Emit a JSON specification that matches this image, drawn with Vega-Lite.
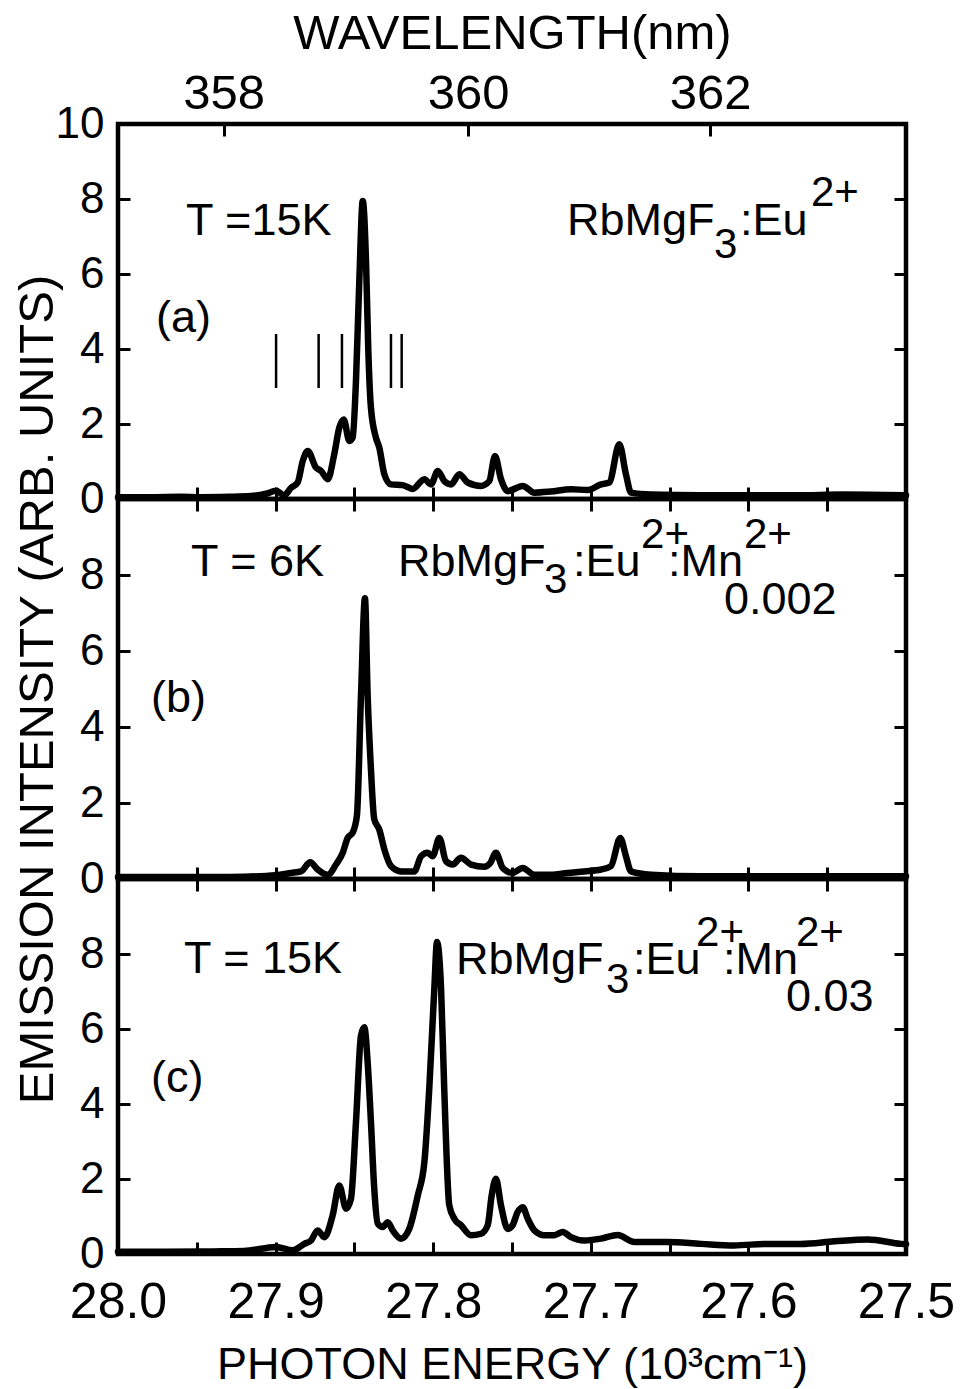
{
  "$schema": "https://vega.github.io/schema/vega-lite/v6.json",
  "background": "white",
  "padding": {"left": 11, "top": 6, "right": 0, "bottom": 0},
  "bounds": "flush",
  "spacing": 0,
  "config": {
    "font": "Liberation Sans, Arial, Helvetica, sans-serif",
    "view": {"stroke": "black", "strokeWidth": 4.5},
    "axis": {"domain": false, "grid": false, "tickColor": "black", "tickWidth": 3, "tickSize": -12, "labelColor": "black", "titleColor": "black", "titleFontWeight": "normal", "labelOverlap": false, "labelFlush": false, "labelBound": false}
  },
  "datasets": {
    "spectra": [
      {"panel": "a", "E": 28.0, "I": 0.05}, {"panel": "a", "E": 27.98, "I": 0.05}, {"panel": "a", "E": 27.96, "I": 0.06}, {"panel": "a", "E": 27.9473, "I": 0.05}, {"panel": "a", "E": 27.93, "I": 0.06}, {"panel": "a", "E": 27.9156, "I": 0.08}, {"panel": "a", "E": 27.9061, "I": 0.14}, {"panel": "a", "E": 27.8997, "I": 0.22}, {"panel": "a", "E": 27.8945, "I": 0.1}, {"panel": "a", "E": 27.8902, "I": 0.3}, {"panel": "a", "E": 27.886, "I": 0.44}, {"panel": "a", "E": 27.8828, "I": 1.01}, {"panel": "a", "E": 27.8796, "I": 1.28}, {"panel": "a", "E": 27.8744, "I": 0.84}, {"panel": "a", "E": 27.8712, "I": 0.75}, {"panel": "a", "E": 27.8669, "I": 0.53}, {"panel": "a", "E": 27.8628, "I": 1.19}, {"panel": "a", "E": 27.8596, "I": 1.9}, {"panel": "a", "E": 27.8568, "I": 2.12}, {"panel": "a", "E": 27.8532, "I": 1.55}, {"panel": "a", "E": 27.8511, "I": 1.64}, {"panel": "a", "E": 27.849, "I": 3.15}, {"panel": "a", "E": 27.8469, "I": 5.8}, {"panel": "a", "E": 27.8447, "I": 7.95}, {"panel": "a", "E": 27.8426, "I": 6.3}, {"panel": "a", "E": 27.8412, "I": 4.0}, {"panel": "a", "E": 27.8395, "I": 2.43}, {"panel": "a", "E": 27.8363, "I": 1.63}, {"panel": "a", "E": 27.8342, "I": 1.37}, {"panel": "a", "E": 27.831, "I": 0.66}, {"panel": "a", "E": 27.8268, "I": 0.39}, {"panel": "a", "E": 27.8194, "I": 0.37}, {"panel": "a", "E": 27.813, "I": 0.27}, {"panel": "a", "E": 27.8056, "I": 0.53}, {"panel": "a", "E": 27.8014, "I": 0.39}, {"panel": "a", "E": 27.7971, "I": 0.75}, {"panel": "a", "E": 27.793, "I": 0.48}, {"panel": "a", "E": 27.7887, "I": 0.39}, {"panel": "a", "E": 27.7834, "I": 0.66}, {"panel": "a", "E": 27.7781, "I": 0.44}, {"panel": "a", "E": 27.7697, "I": 0.35}, {"panel": "a", "E": 27.7644, "I": 0.48}, {"panel": "a", "E": 27.7608, "I": 1.15}, {"panel": "a", "E": 27.757, "I": 0.53}, {"panel": "a", "E": 27.7527, "I": 0.21}, {"panel": "a", "E": 27.7432, "I": 0.35}, {"panel": "a", "E": 27.7358, "I": 0.17}, {"panel": "a", "E": 27.7253, "I": 0.2}, {"panel": "a", "E": 27.7126, "I": 0.26}, {"panel": "a", "E": 27.702, "I": 0.24}, {"panel": "a", "E": 27.6935, "I": 0.39}, {"panel": "a", "E": 27.6883, "I": 0.44}, {"panel": "a", "E": 27.6819, "I": 1.46}, {"panel": "a", "E": 27.6777, "I": 0.66}, {"panel": "a", "E": 27.6745, "I": 0.17}, {"panel": "a", "E": 27.6618, "I": 0.12}, {"panel": "a", "E": 27.63, "I": 0.1}, {"panel": "a", "E": 27.6, "I": 0.1}, {"panel": "a", "E": 27.57, "I": 0.1}, {"panel": "a", "E": 27.54, "I": 0.12}, {"panel": "a", "E": 27.5, "I": 0.1},
      {"panel": "b", "E": 28.0, "I": 0.05}, {"panel": "b", "E": 27.97, "I": 0.05}, {"panel": "b", "E": 27.94, "I": 0.05}, {"panel": "b", "E": 27.92, "I": 0.06}, {"panel": "b", "E": 27.9, "I": 0.1}, {"panel": "b", "E": 27.8902, "I": 0.16}, {"panel": "b", "E": 27.8839, "I": 0.2}, {"panel": "b", "E": 27.878, "I": 0.44}, {"panel": "b", "E": 27.8733, "I": 0.25}, {"panel": "b", "E": 27.8669, "I": 0.11}, {"panel": "b", "E": 27.8617, "I": 0.38}, {"panel": "b", "E": 27.8574, "I": 0.69}, {"panel": "b", "E": 27.8543, "I": 1.08}, {"panel": "b", "E": 27.8511, "I": 1.22}, {"panel": "b", "E": 27.8484, "I": 1.67}, {"panel": "b", "E": 27.8458, "I": 4.84}, {"panel": "b", "E": 27.8433, "I": 7.39}, {"panel": "b", "E": 27.8416, "I": 4.84}, {"panel": "b", "E": 27.8395, "I": 2.89}, {"panel": "b", "E": 27.8374, "I": 1.57}, {"panel": "b", "E": 27.8342, "I": 1.3}, {"panel": "b", "E": 27.831, "I": 0.78}, {"panel": "b", "E": 27.8268, "I": 0.34}, {"panel": "b", "E": 27.8204, "I": 0.2}, {"panel": "b", "E": 27.812, "I": 0.2}, {"panel": "b", "E": 27.8077, "I": 0.6}, {"panel": "b", "E": 27.8035, "I": 0.69}, {"panel": "b", "E": 27.8003, "I": 0.6}, {"panel": "b", "E": 27.7961, "I": 1.08}, {"panel": "b", "E": 27.7919, "I": 0.47}, {"panel": "b", "E": 27.7876, "I": 0.38}, {"panel": "b", "E": 27.7824, "I": 0.56}, {"panel": "b", "E": 27.776, "I": 0.38}, {"panel": "b", "E": 27.7676, "I": 0.32}, {"panel": "b", "E": 27.7638, "I": 0.42}, {"panel": "b", "E": 27.7602, "I": 0.69}, {"panel": "b", "E": 27.7559, "I": 0.29}, {"panel": "b", "E": 27.7496, "I": 0.16}, {"panel": "b", "E": 27.7432, "I": 0.29}, {"panel": "b", "E": 27.7358, "I": 0.11}, {"panel": "b", "E": 27.7253, "I": 0.11}, {"panel": "b", "E": 27.7147, "I": 0.16}, {"panel": "b", "E": 27.7041, "I": 0.2}, {"panel": "b", "E": 27.6935, "I": 0.25}, {"panel": "b", "E": 27.6872, "I": 0.34}, {"panel": "b", "E": 27.6813, "I": 1.08}, {"panel": "b", "E": 27.6777, "I": 0.6}, {"panel": "b", "E": 27.6745, "I": 0.2}, {"panel": "b", "E": 27.6618, "I": 0.11}, {"panel": "b", "E": 27.63, "I": 0.07}, {"panel": "b", "E": 27.6, "I": 0.07}, {"panel": "b", "E": 27.56, "I": 0.07}, {"panel": "b", "E": 27.5, "I": 0.07},
      {"panel": "c", "E": 28.0, "I": 0.06}, {"panel": "c", "E": 27.97, "I": 0.06}, {"panel": "c", "E": 27.94, "I": 0.07}, {"panel": "c", "E": 27.92, "I": 0.08}, {"panel": "c", "E": 27.8997, "I": 0.19}, {"panel": "c", "E": 27.8892, "I": 0.1}, {"panel": "c", "E": 27.8818, "I": 0.27}, {"panel": "c", "E": 27.8775, "I": 0.36}, {"panel": "c", "E": 27.8733, "I": 0.63}, {"panel": "c", "E": 27.8691, "I": 0.45}, {"panel": "c", "E": 27.8638, "I": 1.03}, {"panel": "c", "E": 27.8596, "I": 1.83}, {"panel": "c", "E": 27.8553, "I": 1.21}, {"panel": "c", "E": 27.8522, "I": 1.47}, {"panel": "c", "E": 27.849, "I": 3.52}, {"panel": "c", "E": 27.8458, "I": 5.83}, {"panel": "c", "E": 27.8437, "I": 6.05}, {"panel": "c", "E": 27.8416, "I": 5.12}, {"panel": "c", "E": 27.8395, "I": 3.52}, {"panel": "c", "E": 27.8374, "I": 1.74}, {"panel": "c", "E": 27.8352, "I": 0.81}, {"panel": "c", "E": 27.832, "I": 0.72}, {"panel": "c", "E": 27.8289, "I": 0.85}, {"panel": "c", "E": 27.8257, "I": 0.63}, {"panel": "c", "E": 27.8204, "I": 0.41}, {"panel": "c", "E": 27.8152, "I": 0.67}, {"panel": "c", "E": 27.8098, "I": 1.56}, {"panel": "c", "E": 27.8056, "I": 2.45}, {"panel": "c", "E": 27.8025, "I": 4.41}, {"panel": "c", "E": 27.7993, "I": 7.07}, {"panel": "c", "E": 27.7976, "I": 8.32}, {"panel": "c", "E": 27.795, "I": 7.07}, {"panel": "c", "E": 27.793, "I": 4.41}, {"panel": "c", "E": 27.7898, "I": 1.3}, {"panel": "c", "E": 27.7866, "I": 0.94}, {"panel": "c", "E": 27.7824, "I": 0.77}, {"panel": "c", "E": 27.776, "I": 0.5}, {"panel": "c", "E": 27.7697, "I": 0.54}, {"panel": "c", "E": 27.7654, "I": 0.77}, {"panel": "c", "E": 27.7629, "I": 1.56}, {"panel": "c", "E": 27.7602, "I": 2.01}, {"panel": "c", "E": 27.757, "I": 1.3}, {"panel": "c", "E": 27.7527, "I": 0.67}, {"panel": "c", "E": 27.7496, "I": 0.77}, {"panel": "c", "E": 27.7464, "I": 1.12}, {"panel": "c", "E": 27.7432, "I": 1.25}, {"panel": "c", "E": 27.74, "I": 0.94}, {"panel": "c", "E": 27.7358, "I": 0.63}, {"panel": "c", "E": 27.7295, "I": 0.5}, {"panel": "c", "E": 27.7232, "I": 0.5}, {"panel": "c", "E": 27.7178, "I": 0.59}, {"panel": "c", "E": 27.7126, "I": 0.45}, {"panel": "c", "E": 27.7041, "I": 0.36}, {"panel": "c", "E": 27.6935, "I": 0.41}, {"panel": "c", "E": 27.6829, "I": 0.51}, {"panel": "c", "E": 27.6724, "I": 0.32}, {"panel": "c", "E": 27.6512, "I": 0.32}, {"panel": "c", "E": 27.6301, "I": 0.27}, {"panel": "c", "E": 27.609, "I": 0.23}, {"panel": "c", "E": 27.5878, "I": 0.27}, {"panel": "c", "E": 27.5666, "I": 0.27}, {"panel": "c", "E": 27.5455, "I": 0.34}, {"panel": "c", "E": 27.5243, "I": 0.39}, {"panel": "c", "E": 27.5032, "I": 0.27}, {"panel": "c", "E": 27.5, "I": 0.26}
    ],
    "notes": [
      {"panel": "a", "kind": "main", "E": 27.9569, "I": 7.04, "text": "T =15K"},
      {"panel": "a", "kind": "main", "E": 27.7151, "I": 7.04, "text": "RbMgF"},
      {"panel": "a", "kind": "sub", "E": 27.6218, "I": 6.43, "text": "3"},
      {"panel": "a", "kind": "main", "E": 27.6053, "I": 7.04, "text": ":Eu"},
      {"panel": "a", "kind": "sup", "E": 27.5603, "I": 7.81, "text": "2+"},
      {"panel": "a", "kind": "main", "E": 27.9759, "I": 4.45, "text": "(a)"},
      {"panel": "b", "kind": "main", "E": 27.9537, "I": 7.97, "text": "T = 6K"},
      {"panel": "b", "kind": "main", "E": 27.8223, "I": 7.97, "text": "RbMgF"},
      {"panel": "b", "kind": "sub", "E": 27.7297, "I": 7.53, "text": "3"},
      {"panel": "b", "kind": "main", "E": 27.7113, "I": 7.97, "text": ":Eu"},
      {"panel": "b", "kind": "sup", "E": 27.6681, "I": 8.71, "text": "2+"},
      {"panel": "b", "kind": "main", "E": 27.651, "I": 7.97, "text": ":Mn"},
      {"panel": "b", "kind": "sup", "E": 27.6028, "I": 8.71, "text": "2+"},
      {"panel": "b", "kind": "main", "E": 27.6155, "I": 6.97, "text": "0.002"},
      {"panel": "b", "kind": "main", "E": 27.9791, "I": 4.39, "text": "(b)"},
      {"panel": "c", "kind": "main", "E": 27.9581, "I": 7.49, "text": "T = 15K"},
      {"panel": "c", "kind": "main", "E": 27.7855, "I": 7.47, "text": "RbMgF"},
      {"panel": "c", "kind": "sub", "E": 27.6904, "I": 6.96, "text": "3"},
      {"panel": "c", "kind": "main", "E": 27.6732, "I": 7.47, "text": ":Eu"},
      {"panel": "c", "kind": "sup", "E": 27.6332, "I": 8.21, "text": "2+"},
      {"panel": "c", "kind": "main", "E": 27.6161, "I": 7.47, "text": ":Mn"},
      {"panel": "c", "kind": "sup", "E": 27.5698, "I": 8.21, "text": "2+"},
      {"panel": "c", "kind": "main", "E": 27.5761, "I": 6.48, "text": "0.03"},
      {"panel": "c", "kind": "main", "E": 27.9791, "I": 4.32, "text": "(c)"}
    ],
    "markers": [
      {"E": 27.8997, "I1": 2.96, "I2": 4.4},
      {"E": 27.8727, "I1": 2.96, "I2": 4.4},
      {"E": 27.8579, "I1": 2.96, "I2": 4.4},
      {"E": 27.8268, "I1": 2.96, "I2": 4.4},
      {"E": 27.82, "I1": 2.96, "I2": 4.4}
    ]
  },
  "vconcat": [
    {
      "width": 788, "height": 375,
      "resolve": {"axis": {"x": "independent", "y": "independent"}},
      "layer": [
        {
          "data": {"name": "spectra"},
          "transform": [{"filter": "datum.panel === 'a'"}],
          "mark": {"type": "line", "color": "black", "strokeWidth": 6.5, "interpolate": "monotone", "strokeJoin": "round", "strokeCap": "round"},
          "encoding": {
            "x": {"field": "E", "type": "quantitative", "scale": {"domain": [27.5, 28.0], "reverse": true, "nice": false, "zero": false},
                  "axis": {"orient": "bottom", "values": [27.5, 27.55, 27.6, 27.65, 27.7, 27.75, 27.8, 27.85, 27.9, 27.95, 28.0], "labels": false, "title": null}},
            "y": {"field": "I", "type": "quantitative", "scale": {"domain": [0, 10], "nice": false, "zero": false},
                  "axis": {"orient": "left", "values": [0, 2, 4, 6, 8, 10], "labelFontSize": 44, "labelPadding": 26, "title": null}}
          }
        },
        {
          "data": {"name": "notes"},
          "transform": [{"filter": "datum.panel === 'a' && datum.kind === 'main'"}],
          "mark": {"type": "text", "align": "left", "baseline": "alphabetic", "fontSize": 45, "color": "black"},
          "encoding": {
            "x": {"field": "E", "type": "quantitative", "scale": {"domain": [27.5, 28.0], "reverse": true, "nice": false, "zero": false},
                  "axis": {"orient": "top", "values": [27.932961, 27.777778, 27.624309], "labelExpr": "format(10000/datum.value, '.0f')", "labelFontSize": 49, "labelPadding": 18, "title": "WAVELENGTH(nm)", "titleFontSize": 49, "titlePadding": 11}},
            "y": {"field": "I", "type": "quantitative", "scale": {"domain": [0, 10], "nice": false, "zero": false},
                  "axis": {"orient": "right", "values": [2, 4, 6, 8], "labels": false, "title": null}},
            "text": {"field": "text"}
          }
        },
        {
          "data": {"name": "notes"},
          "transform": [{"filter": "datum.panel === 'a' && datum.kind !== 'main'"}],
          "mark": {"type": "text", "align": "left", "baseline": "alphabetic", "fontSize": 42, "color": "black"},
          "encoding": {
            "x": {"field": "E", "type": "quantitative", "scale": {"domain": [27.5, 28.0], "reverse": true, "nice": false, "zero": false}, "axis": null},
            "y": {"field": "I", "type": "quantitative", "scale": {"domain": [0, 10], "nice": false, "zero": false}, "axis": null},
            "text": {"field": "text"}
          }
        },
        {
          "data": {"name": "markers"},
          "mark": {"type": "rule", "color": "black", "strokeWidth": 2.5},
          "encoding": {
            "x": {"field": "E", "type": "quantitative", "scale": {"domain": [27.5, 28.0], "reverse": true, "nice": false, "zero": false}, "axis": null},
            "y": {"field": "I1", "type": "quantitative", "scale": {"domain": [0, 10], "nice": false, "zero": false}, "axis": null},
            "y2": {"field": "I2"}
          }
        }
      ]
    },
    {
      "width": 788, "height": 380,
      "resolve": {"axis": {"x": "independent", "y": "independent"}},
      "layer": [
        {
          "data": {"name": "spectra"},
          "transform": [{"filter": "datum.panel === 'b'"}],
          "mark": {"type": "line", "color": "black", "strokeWidth": 6.5, "interpolate": "monotone", "strokeJoin": "round", "strokeCap": "round"},
          "encoding": {
            "x": {"field": "E", "type": "quantitative", "scale": {"domain": [27.5, 28.0], "reverse": true, "nice": false, "zero": false},
                  "axis": {"orient": "bottom", "values": [27.5, 27.55, 27.6, 27.65, 27.7, 27.75, 27.8, 27.85, 27.9, 27.95, 28.0], "labels": false, "title": null}},
            "y": {"field": "I", "type": "quantitative", "scale": {"domain": [0, 10], "nice": false, "zero": false},
                  "axis": {"orient": "left", "values": [0, 2, 4, 6, 8], "labelFontSize": 44, "labelPadding": 26, "title": "EMISSION INTENSITY (ARB. UNITS)", "titleFontSize": 49, "titlePadding": 17}}
          }
        },
        {
          "data": {"name": "notes"},
          "transform": [{"filter": "datum.panel === 'b' && datum.kind === 'main'"}],
          "mark": {"type": "text", "align": "left", "baseline": "alphabetic", "fontSize": 45, "color": "black"},
          "encoding": {
            "x": {"field": "E", "type": "quantitative", "scale": {"domain": [27.5, 28.0], "reverse": true, "nice": false, "zero": false},
                  "axis": {"orient": "top", "values": [27.5, 27.55, 27.6, 27.65, 27.7, 27.75, 27.8, 27.85, 27.9, 27.95, 28.0], "labels": false, "title": null}},
            "y": {"field": "I", "type": "quantitative", "scale": {"domain": [0, 10], "nice": false, "zero": false},
                  "axis": {"orient": "right", "values": [2, 4, 6, 8], "labels": false, "title": null}},
            "text": {"field": "text"}
          }
        },
        {
          "data": {"name": "notes"},
          "transform": [{"filter": "datum.panel === 'b' && datum.kind !== 'main'"}],
          "mark": {"type": "text", "align": "left", "baseline": "alphabetic", "fontSize": 42, "color": "black"},
          "encoding": {
            "x": {"field": "E", "type": "quantitative", "scale": {"domain": [27.5, 28.0], "reverse": true, "nice": false, "zero": false}, "axis": null},
            "y": {"field": "I", "type": "quantitative", "scale": {"domain": [0, 10], "nice": false, "zero": false}, "axis": null},
            "text": {"field": "text"}
          }
        }
      ]
    },
    {
      "width": 788, "height": 375,
      "resolve": {"axis": {"x": "independent", "y": "independent"}},
      "layer": [
        {
          "data": {"name": "spectra"},
          "transform": [{"filter": "datum.panel === 'c'"}],
          "mark": {"type": "line", "color": "black", "strokeWidth": 6.5, "interpolate": "monotone", "strokeJoin": "round", "strokeCap": "round"},
          "encoding": {
            "x": {"field": "E", "type": "quantitative", "scale": {"domain": [27.5, 28.0], "reverse": true, "nice": false, "zero": false},
                  "axis": {"orient": "bottom", "values": [27.5, 27.55, 27.6, 27.65, 27.7, 27.75, 27.8, 27.85, 27.9, 27.95, 28.0], "labelExpr": "(round(datum.value*100) % 10 == 0) ? format(datum.value, '.1f') : ''", "labelFontSize": 50, "labelPadding": 35, "title": "PHOTON ENERGY (10³cm⁻¹)", "titleFontSize": 45, "titlePadding": 15}},
            "y": {"field": "I", "type": "quantitative", "scale": {"domain": [0, 10], "nice": false, "zero": false},
                  "axis": {"orient": "left", "values": [0, 2, 4, 6, 8], "labelFontSize": 44, "labelPadding": 26, "title": null}}
          }
        },
        {
          "data": {"name": "notes"},
          "transform": [{"filter": "datum.panel === 'c' && datum.kind === 'main'"}],
          "mark": {"type": "text", "align": "left", "baseline": "alphabetic", "fontSize": 45, "color": "black"},
          "encoding": {
            "x": {"field": "E", "type": "quantitative", "scale": {"domain": [27.5, 28.0], "reverse": true, "nice": false, "zero": false},
                  "axis": {"orient": "top", "values": [27.5, 27.55, 27.6, 27.65, 27.7, 27.75, 27.8, 27.85, 27.9, 27.95, 28.0], "labels": false, "title": null}},
            "y": {"field": "I", "type": "quantitative", "scale": {"domain": [0, 10], "nice": false, "zero": false},
                  "axis": {"orient": "right", "values": [2, 4, 6, 8], "labels": false, "title": null}},
            "text": {"field": "text"}
          }
        },
        {
          "data": {"name": "notes"},
          "transform": [{"filter": "datum.panel === 'c' && datum.kind !== 'main'"}],
          "mark": {"type": "text", "align": "left", "baseline": "alphabetic", "fontSize": 42, "color": "black"},
          "encoding": {
            "x": {"field": "E", "type": "quantitative", "scale": {"domain": [27.5, 28.0], "reverse": true, "nice": false, "zero": false}, "axis": null},
            "y": {"field": "I", "type": "quantitative", "scale": {"domain": [0, 10], "nice": false, "zero": false}, "axis": null},
            "text": {"field": "text"}
          }
        }
      ]
    }
  ]
}
